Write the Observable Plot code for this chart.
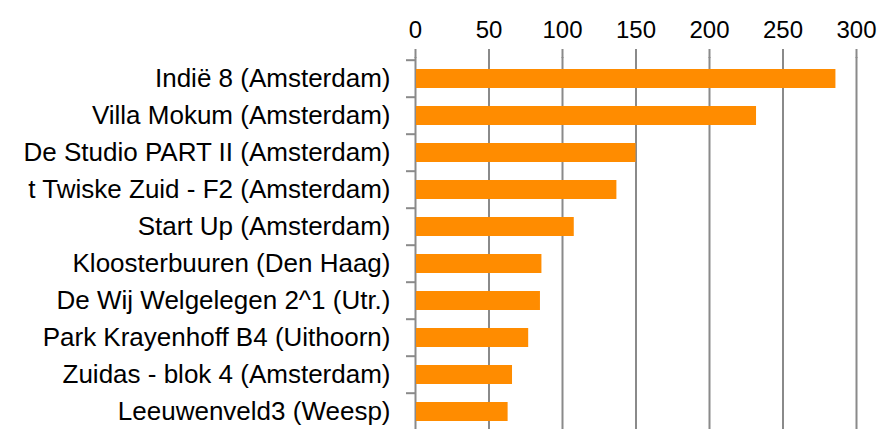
<!DOCTYPE html>
<html>
<head>
<meta charset="utf-8">
<script src="https://cdn.jsdelivr.net/npm/d3@7"></script>
<script src="https://cdn.jsdelivr.net/npm/@observablehq/plot@0.6"></script>
<style>
  html, body { margin: 0; padding: 0; background: #fff; overflow: hidden; }
  svg { display: block; }
</style>
</head>
<body>
<div id="chart"></div>
<script>
const projects = [
  "Indië 8 (Amsterdam)",
  "Villa Mokum (Amsterdam)",
  "De Studio PART II (Amsterdam)",
  "t Twiske Zuid - F2 (Amsterdam)",
  "Start Up (Amsterdam)",
  "Kloosterbuuren (Den Haag)",
  "De Wij Welgelegen 2^1 (Utr.)",
  "Park Krayenhoff B4 (Uithoorn)",
  "Zuidas - blok 4 (Amsterdam)",
  "Leeuwenveld3 (Weesp)"
];
const values = [286, 232, 150, 137, 108, 86, 85, 77, 66, 63];
const xTicks = [0, 50, 100, 150, 200, 250, 300];

const data = projects.map((p, i) => ({project: p, value: values[i]}));

const gray = "#8a8a8a";
const step = (429 + 4 - 57) / projects.length;

const chart = Plot.plot({
  width: 881,
  height: 429,
  marginLeft: 415,
  marginRight: 25,
  marginTop: 57,
  marginBottom: -4,
  style: {fontFamily: "'Liberation Sans', Arial, sans-serif", background: "#fff", color: "#000"},
  x: {domain: [0, 300], axis: null},
  y: {domain: projects, paddingInner: 0.5, paddingOuter: 0.25, align: 0.5, axis: null},
  marks: [
    Plot.ruleX(xTicks, {stroke: gray, strokeWidth: 2}),
    Plot.axisX(xTicks, {anchor: "top", label: null, tickSize: 9, tickPadding: 11, stroke: gray, strokeWidth: 2, fontSize: 24, tickFormat: d => String(d), fill: "#000"}),
    Plot.axisY({anchor: "left", label: null, tickSize: 9, stroke: gray, strokeWidth: 2, tickFormat: null, dy: -step / 2}),
    Plot.axisY({anchor: "left", label: null, tickSize: 0, tickPadding: 25, fontSize: 26, fill: "#000"}),
    Plot.barX(data, {x: "value", y: "project", fill: "#ff8c00", insetLeft: 1})
  ]
});
document.getElementById("chart").appendChild(chart);
</script>
</body>
</html>
